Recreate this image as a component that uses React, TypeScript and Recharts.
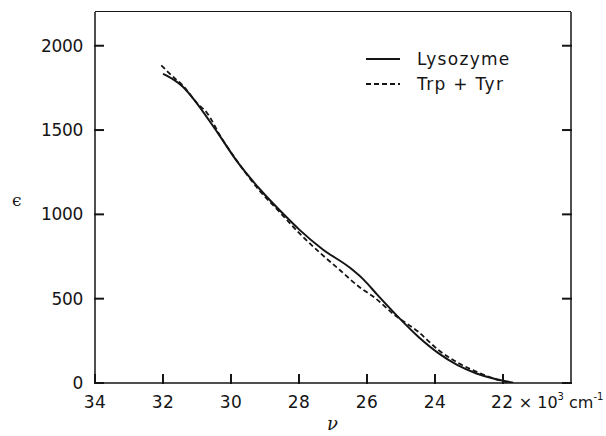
import React from 'react';
import { LineChart, Line, XAxis, YAxis } from 'recharts';

// wavenumber (10^3 cm^-1) and molar absorptivity
const nuLysozyme = [32.0, 31.7, 31.4, 31.1, 30.4, 29.8, 29.15, 28.4, 28.0, 27.3, 26.5, 26.1, 25.7, 25.1, 24.5, 23.9, 23.35, 22.8, 22.2, 21.7];
const epsLysozyme = [1833, 1800, 1754, 1684, 1486, 1308, 1149, 990, 911, 792, 683, 613, 524, 395, 276, 177, 107, 58, 22, 2];

const nuTrpTyr = [32.05, 31.7, 31.4, 31.0, 30.7, 30.3, 29.8, 29.2, 28.6, 28.0, 27.4, 26.8, 26.2, 25.8, 25.2, 24.5, 23.9, 23.3, 22.7, 22.2, 21.8];
const epsTrpTyr = [1883, 1815, 1760, 1660, 1600, 1460, 1310, 1150, 1020, 890, 775, 670, 565, 510, 405, 305, 196, 117, 60, 22, 0];

const xTicks = [34, 32, 30, 28, 26, 24, 22];
const yTicks = [0, 500, 1000, 1500, 2000];

const lysozyme = nuLysozyme.map((nu, i) => ({ nu, eps: epsLysozyme[i] }));
const trpTyr = nuTrpTyr.map((nu, i) => ({ nu, eps: epsTrpTyr[i] }));

const INK = '#151515';
const FONT = '"DejaVu Sans", sans-serif';
const SERIF = '"DejaVu Serif", serif';
const TICK_LEN = 9;
const TICK_W = 2;
const axisLine = { stroke: INK, strokeWidth: 1.5 };

// bottom axis: inward tick mark + label (22 carries the unit)
const XTick = (props: any) => {
  const x = Number(props.x);
  const y = Number(props.y);
  const { payload } = props;
  const common = { fill: INK, fontFamily: FONT, fontSize: 17, letterSpacing: 0.5 };
  return (
    <g>
      <path d={`M${x},${y + 1}V${y - TICK_LEN}`} stroke={INK} strokeWidth={TICK_W} fill="none" />
      {payload.value === 22 ? (
        <text x={x - 12} y={y + 25} textAnchor="start" {...common}>
          22
          <tspan fontSize={16} letterSpacing={0}> × 10</tspan>
          <tspan dy={-8} fontSize={10} letterSpacing={0}>3</tspan>
          <tspan dy={8} fontSize={16} letterSpacing={0}> cm</tspan>
          <tspan dy={-8} fontSize={10} letterSpacing={0}>-1</tspan>
        </text>
      ) : (
        <text x={x} y={y + 25} textAnchor="middle" {...common}>
          {payload.value}
        </text>
      )}
    </g>
  );
};

const YTickLeft = (props: any) => {
  const x = Number(props.x);
  const y = Number(props.y);
  const { payload } = props;
  return (
    <g>
      <path d={`M${x + 11},${y}H${x + 12 + TICK_LEN}`} stroke={INK} strokeWidth={TICK_W} fill="none" />
      <text x={x} y={y} dy={6} textAnchor="end" fill={INK} fontFamily={FONT} fontSize={17} letterSpacing={-0.3}>
        {payload.value}
      </text>
    </g>
  );
};

const YTickRight = (props: any) => {
  const x = Number(props.x);
  const y = Number(props.y);
  return <path d={`M${x + 1},${y}H${x - TICK_LEN}`} stroke={INK} strokeWidth={TICK_W} fill="none" />;
};

const legendItems = [
  { label: 'Lysozyme', dash: undefined },
  { label: 'Trp + Tyr', dash: '5 3' },
];

export default function App() {
  return (
    <div style={{ position: 'absolute', left: 0, top: 0, width: 606, height: 436, background: '#fff' }}>
      <LineChart width={606} height={436} margin={{ top: 12, right: 0, bottom: 0, left: 0 }}>
        <XAxis
          dataKey="nu"
          type="number"
          domain={[20, 34]}
          reversed
          ticks={xTicks}
          allowDataOverflow
          height={53}
          axisLine={axisLine}
          tickLine={false}
          tickSize={0}
          tickMargin={0}
          tick={XTick}
        />
        <YAxis
          yAxisId="l"
          type="number"
          domain={[0, 2200]}
          ticks={yTicks}
          allowDataOverflow
          width={95}
          axisLine={axisLine}
          tickLine={false}
          tickSize={0}
          tickMargin={12}
          tick={YTickLeft}
        />
        <YAxis
          yAxisId="r"
          orientation="right"
          type="number"
          domain={[0, 2200]}
          ticks={yTicks}
          allowDataOverflow
          width={35}
          axisLine={axisLine}
          tickLine={false}
          tickSize={0}
          tickMargin={0}
          tick={YTickRight}
        />
        <Line
          yAxisId="l"
          data={lysozyme}
          dataKey="eps"
          name="Lysozyme"
          type="monotone"
          stroke={INK}
          strokeWidth={2}
          dot={false}
          isAnimationActive={false}
        />
        <Line
          yAxisId="l"
          data={trpTyr}
          dataKey="eps"
          name="Trp + Tyr"
          type="monotone"
          stroke={INK}
          strokeWidth={1.8}
          strokeDasharray="5 3"
          dot={false}
          isAnimationActive={false}
        />
      </LineChart>

      {/* top edge of the frame */}
      <div style={{ position: 'absolute', left: 95, top: 11, width: 476, borderTop: `1.5px solid ${INK}` }} />

      {/* axis titles */}
      <span style={{ position: 'absolute', left: 12, top: 190, fontFamily: SERIF, fontSize: 17, color: INK, lineHeight: '20px' }}>ϵ</span>
      <span style={{ position: 'absolute', left: 327, top: 414, fontFamily: SERIF, fontStyle: 'italic', fontSize: 18, color: INK, lineHeight: '20px' }}>ν</span>

      {/* legend */}
      <div style={{ position: 'absolute', left: 366, top: 46, fontFamily: FONT, fontSize: 17, color: INK, letterSpacing: 1.3 }}>
        {legendItems.map((it) => (
          <div key={it.label} style={{ display: 'flex', alignItems: 'center', height: 25 }}>
            <svg width={34} height={6} style={{ marginRight: 17 }}>
              <line x1={0} y1={3} x2={34} y2={3} stroke={INK} strokeWidth={2} strokeDasharray={it.dash} />
            </svg>
            <span>{it.label}</span>
          </div>
        ))}
      </div>
    </div>
  );
}
